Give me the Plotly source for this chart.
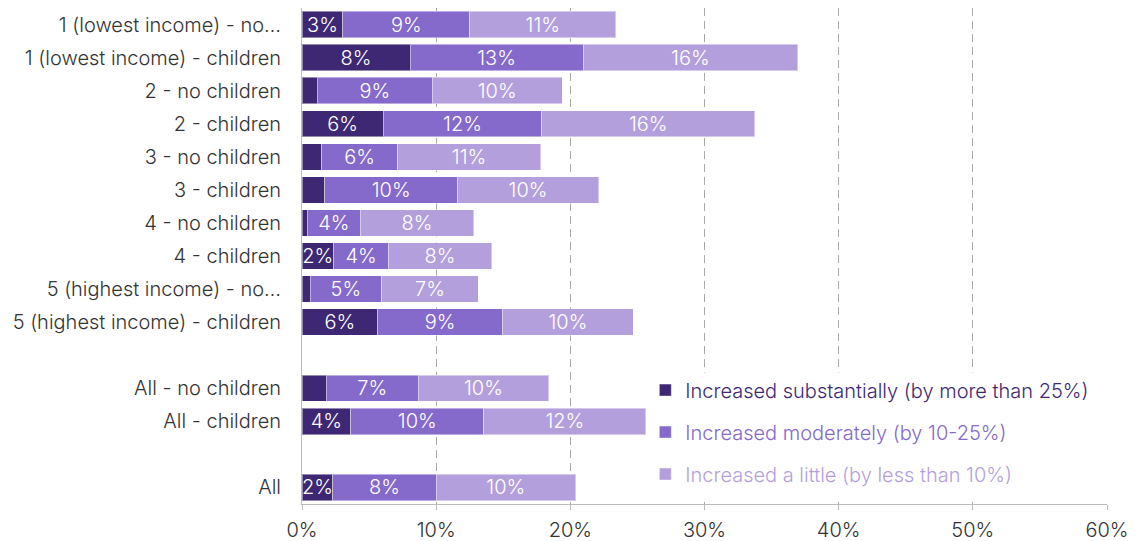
import plotly.graph_objects as go

categories = [
    "1 (lowest income) - no…",
    "1 (lowest income) - children",
    "2 - no children",
    "2 - children",
    "3 - no children",
    "3 - children",
    "4 - no children",
    "4 - children",
    "5 (highest income) - no…",
    "5 (highest income) - children",
    "",
    "All - no children",
    "All - children",
    "",
    "All",
]

substantial = [3.05, 8.05, 1.15, 6.06, 1.47, 1.7, 0.4, 2.35, 0.6, 5.64, None, 1.79, 3.63, None, 2.31]
moderate = [9.45, 12.9, 8.55, 11.8, 5.66, 9.9, 3.95, 4.1, 5.34, 9.31, None, 6.88, 9.93, None, 7.68]
little = [10.9, 16.0, 9.7, 15.9, 10.65, 10.5, 8.45, 7.68, 7.2, 9.74, None, 9.71, 12.07, None, 10.4]

series_names = [
    "Increased substantially (by more than 25%)",
    "Increased moderately (by 10-25%)",
    "Increased a little (by less than 10%)",
]
colors = ["#3e2874", "#8569cb", "#b49fdd"]

x_ticks = [0, 10, 20, 30, 40, 50, 60]
x_tick_labels = ["0%", "10%", "20%", "30%", "40%", "50%", "60%"]

FONT = "Inter"
FS = 20
ypos = list(range(len(categories)))

fig = go.Figure()
for name, vals, col in zip(series_names, [substantial, moderate, little], colors):
    texts = [(f"{round(v)}%" if (v is not None and v >= 2) else "") for v in vals]
    fig.add_trace(go.Bar(
        y=ypos, x=vals, orientation="h",
        name=f"<span style='color:{col}'>{name}</span>",
        legendgroup=name,
        marker=dict(color=col, line=dict(color="rgba(255,255,255,0.45)", width=1)),
        text=texts, textposition="inside", insidetextanchor="middle",
        constraintext="none", cliponaxis=False,
        textfont=dict(color="white", size=FS, family=FONT, weight=300),
        textangle=0,
        hoverinfo="x+name",
    ))

# white backing panel behind the legend (hides gridlines there)
fig.add_shape(
    type="rect", xref="paper", yref="paper",
    x0=0.445, x1=1.002, y0=0.01, y1=0.265,
    fillcolor="white", line=dict(width=0), layer="above",
)

fig.update_layout(
    barmode="stack",
    bargap=0.2,
    width=1139, height=541,
    margin=dict(l=302, r=32, t=8, b=37, autoexpand=False),
    plot_bgcolor="white", paper_bgcolor="white",
    font=dict(family=FONT, size=FS, color="#333333", weight=300),
    showlegend=True,
    legend=dict(
        x=0.4265, y=0.269, xanchor="left", yanchor="top",
        orientation="v", bgcolor="rgba(0,0,0,0)",
        font=dict(size=FS, family=FONT, weight=300),
        tracegroupgap=13, itemwidth=30,
    ),
    xaxis=dict(
        range=[0, 60], tickvals=x_ticks, ticktext=x_tick_labels,
        showgrid=True, gridcolor="#aaaaaa", griddash="8px,5px", gridwidth=1,
        zeroline=False, showline=True, linecolor="#bbbbbb", linewidth=1,
        ticks="outside", ticklen=5, tickcolor="#bbbbbb",
        ticklabelstandoff=3, automargin=False,
        tickfont=dict(size=FS, color="#333333", family=FONT, weight=300),
        fixedrange=True,
    ),
    yaxis=dict(
        tickvals=ypos, ticktext=categories,
        range=[len(categories) - 0.5, -0.5], autorange=False,
        showgrid=False, zeroline=False,
        showline=True, linecolor="#bbbbbb", linewidth=1,
        ticks="", ticklabelstandoff=16, automargin=False,
        tickfont=dict(size=FS, color="#333333", family=FONT, weight=300),
        fixedrange=True,
    ),
)

fig.write_html("out.html")
